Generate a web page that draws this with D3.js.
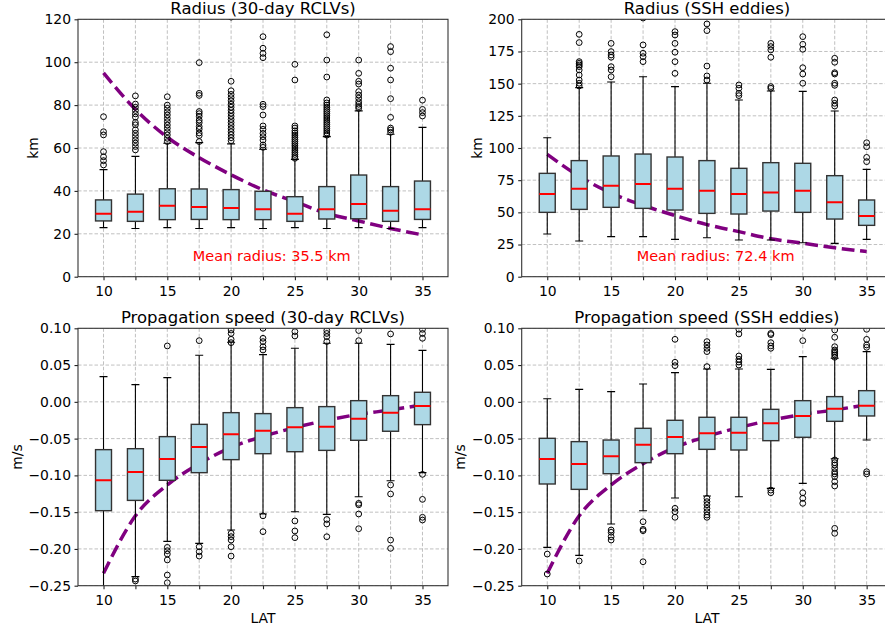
<!DOCTYPE html>
<html>
<head>
<meta charset="utf-8">
<script src="https://cdn.jsdelivr.net/npm/d3@7"></script>
<style>
  html, body { margin: 0; padding: 0; background: #fff; }
  svg { display: block; font-family: "DejaVu Sans", sans-serif; }
</style>
</head>
<body>
<script>
// Latitude bins (box positions) and labelled ticks
const latitudes = [10, 12.5, 15, 17.5, 20, 22.5, 25, 27.5, 30, 32.5, 35];
const latTickLabels = [10, 15, 20, 25, 30, 35];

// Theoretical first-baroclinic Rossby radius (km) and long-wave speed (m/s)
const rossbyRadius = [95, 78, 65, 55.5, 47.5, 40.5, 35, 29.5, 26, 22.5, 19.5];
const rossbySpeed = [-0.233, -0.155, -0.113, -0.084, -0.062, -0.047, -0.035, -0.025, -0.017, -0.011, -0.004];

// Box statistics per latitude: [lower whisker, Q1, median, Q3, upper whisker]
const rclvRadiusBoxes = [
  [22.9, 26.0, 29.4, 35.8, 49.9], [22.5, 25.8, 30.3, 38.5, 56.1], [22.9, 26.6, 33.1, 41.0, 62.2],
  [22.5, 26.7, 32.5, 40.9, 62.5], [22.9, 26.6, 32.0, 40.6, 61.9], [22.5, 26.6, 31.4, 39.8, 59.4],
  [22.9, 25.8, 29.4, 37.3, 54.7], [22.5, 26.9, 31.4, 42.0, 65.3], [22.9, 27.0, 33.9, 47.4, 77.3],
  [22.5, 25.8, 30.8, 42.0, 66.4], [22.9, 26.7, 31.4, 44.6, 69.6]
];
const rclvRadiusOutliers = [
  [74.6, 67.6, 66.1, 58.3, 55.9, 54.1, 52.1],
  [84.3, 80.5, 79.0, 77.5, 75.9, 74.4, 71.9, 70.8, 68.5, 66.9, 65.4, 63.8, 62.3, 60.7, 59.1],
  [83.9, 80.0, 78.5, 76.9, 75.4, 73.8, 72.3, 70.7, 69.2, 67.6, 66.1, 64.5, 63.0],
  [99.8, 85.5, 84.5, 77.0, 76.0, 74.8, 73.0, 71.8, 70.0, 68.8, 67.0, 65.8, 63.0],
  [121, 91.1, 86.7, 85.0, 83.5, 82.0, 80.4, 79.0, 77.6, 76.2, 74.8, 73.3, 71.9, 70.5, 69.0, 67.6, 66.2, 64.8, 63.4],
  [111.9, 106.5, 104.1, 102.1, 80.4, 79.3, 75.4, 70.3, 68.7, 66.8, 65.3, 63.7, 61.4, 60.3],
  [99.0, 91.7, 70.3, 69.3, 68.0, 67.0, 66.0, 65.0, 64.0, 63.0, 62.0, 61.0, 60.0, 59.0, 58.0, 57.0, 56.0, 55.2],
  [112.8, 101.0, 93.1, 82.4, 81.0, 80.0, 79.0, 78.0, 77.0, 76.0, 75.0, 74.0, 73.0, 72.0, 71.0, 70.0, 69.0, 68.0, 67.0, 66.0],
  [101.0, 94.8, 91.1, 89.8, 86.3, 84.7, 83.2, 81.6, 80.4, 79.3, 78.5],
  [107.3, 104.9, 97.2, 91.7, 83.0, 74.3, 69.3, 68.4, 67.3],
  [82.3, 78.0, 76.5, 74.9]
];

const sshRadiusBoxes = [
  [33.2, 50.0, 64.2, 80.3, 108.0], [27.7, 52.3, 68.4, 90.2, 146.9], [31.1, 53.9, 70.7, 93.8, 151.3],
  [31.1, 53.1, 72.0, 95.3, 155.4], [29.0, 51.8, 68.4, 93.0, 147.7], [30.3, 49.2, 66.8, 90.2, 150.3],
  [28.5, 48.7, 64.2, 84.2, 137.3], [28.5, 51.0, 65.5, 88.6, 144.3], [26.4, 50.0, 66.8, 88.1, 144.0],
  [25.9, 44.8, 57.8, 78.5, 128.8], [29.0, 39.9, 47.2, 59.6, 83.4]
];
const sshRadiusOutliers = [
  [],
  [188.3, 181.9, 167.1, 165.8, 164.5, 163.2, 160.6, 156.7, 152.8, 150.3, 148.2],
  [181.3, 174.9, 172.3, 170.5, 163.2, 160.6, 155.4],
  [201, 180.1, 173.6, 171.0, 167.1],
  [190.4, 187.8, 181.3, 174.4, 167.1, 158.0],
  [196.4, 191.2, 163.7, 156.0, 152.8],
  [149.0, 146.4, 142.5, 140.7],
  [181.3, 178.8, 176.2, 170.5, 147.7, 146.4],
  [186.5, 180.6, 176.7, 162.4, 157.5, 150.3],
  [169.7, 166.6, 158.5, 157.5, 150.3, 148.7, 137.3, 134.7, 132.6],
  [104.1, 101.0, 92.7, 89.4]
];

const rclvSpeedBoxes = [
  [-0.27, -0.148, -0.1067, -0.065, 0.0343], [-0.2377, -0.134, -0.0954, -0.0637, 0.0234],
  [-0.1897, -0.1067, -0.0777, -0.0473, 0.0329], [-0.1924, -0.0963, -0.0614, -0.0306, 0.0633],
  [-0.1743, -0.0786, -0.0442, -0.0147, 0.081], [-0.1525, -0.0705, -0.0392, -0.016, 0.0642],
  [-0.1494, -0.0678, -0.0346, -0.0079, 0.0728], [-0.153, -0.066, -0.0337, -0.0065, 0.0796],
  [-0.129, -0.0523, -0.0229, 0.0016, 0.0796], [-0.1072, -0.040, -0.0147, 0.0084, 0.0782],
  [-0.0963, -0.031, -0.0056, 0.013, 0.070]
];
const rclvSpeedOutliers = [
  [],
  [-0.241, -0.2436],
  [0.076, -0.1979, -0.2024, -0.207, -0.215, -0.2355, -0.246],
  [0.0832, -0.197, -0.2038, -0.2097],
  [0.0977, 0.093, 0.085, 0.0805, -0.1788, -0.1833, -0.1879, -0.197, -0.2097],
  [0.1, 0.0864, 0.0819, 0.075, 0.0705, -0.155, -0.1765],
  [0.0955, 0.0896, -0.162, -0.1756, -0.1847],
  [0.097, 0.093, 0.0887, 0.082, -0.16, -0.166, -0.1834],
  [0.097, 0.0832, -0.138, -0.140, -0.1525, -0.1725],
  [0.0923, -0.113, -0.1253, -0.1879, -0.1992],
  [0.0986, 0.093, 0.0864, -0.0986, -0.1326, -0.157, -0.1607]
];

const sshSpeedBoxes = [
  [-0.1979, -0.1117, -0.0777, -0.0496, 0.0043], [-0.2087, -0.119, -0.0845, -0.0541, 0.017],
  [-0.1661, -0.0977, -0.0741, -0.0519, 0.0139], [-0.148, -0.0827, -0.0582, -0.036, 0.0243],
  [-0.1307, -0.0705, -0.0478, -0.0251, 0.0397], [-0.128, -0.0646, -0.0428, -0.021, 0.0447],
  [-0.129, -0.0655, -0.0419, -0.021, 0.0447], [-0.1176, -0.0528, -0.0292, -0.0102, 0.0442],
  [-0.1108, -0.0482, -0.0192, 0.0016, 0.0615], [-0.0773, -0.0265, -0.0093, 0.0071, 0.0592],
  [-0.0519, -0.0192, -0.0052, 0.0152, 0.0683]
];
const sshSpeedOutliers = [
  [-0.207, -0.2341],
  [-0.2164],
  [-0.1743, -0.1774, -0.1834, -0.1879],
  [-0.163, -0.1734, -0.1752, -0.2174],
  [0.085, 0.0538, 0.0492, -0.1448, -0.1494, -0.157],
  [0.0819, 0.0773, 0.0728, 0.0683, 0.0479, -0.1312, -0.1357, -0.140, -0.1448, -0.1494, -0.1539, -0.157],
  [0.0986, 0.0923, 0.0624, 0.0578, 0.0542, 0.0501],
  [0.093, 0.0914, 0.0805, 0.076, 0.0728, -0.12, -0.1236],
  [0.1, 0.0832, -0.1236, -0.1312, -0.138],
  [0.0977, 0.0878, 0.075, 0.0705, 0.0683, 0.066, 0.0637, 0.0606, -0.079, -0.0827, -0.0859, -0.0904, -0.095, -0.098, -0.1017, -0.1085, -0.1144, -0.172, -0.1788],
  [0.0986, 0.085, 0.0773, 0.0742, -0.095, -0.098]
];

// Y-axis ticks
const radiusTicksRclv = [0, 20, 40, 60, 80, 100, 120];
const radiusTicksSsh = [0, 25, 50, 75, 100, 125, 150, 175, 200];
const speedTicks = [-0.25, -0.20, -0.15, -0.10, -0.05, 0.00, 0.05, 0.10];

// Mean radius annotations
const meanRadiusRclv = 35.5;
const meanRadiusSsh = 72.4;

// Layout
const W = 885, H = 632;
const cols = [[78, 448], [521.7, 892.2]];
const rows = [[19.3, 276.7], [328.3, 585.7]];
const boxWidth = 1.25;   // in latitude units
const xDomain = [8, 37];

const panels = [
  { col: 0, row: 0, title: "Radius (30-day RCLVs)", yLabel: "km", domain: [0, 120], ticks: radiusTicksRclv,
    fmt: d3.format("d"), boxes: rclvRadiusBoxes, outliers: rclvRadiusOutliers, curve: rossbyRadius,
    mean: meanRadiusRclv },
  { col: 1, row: 0, title: "Radius (SSH eddies)", yLabel: "km", domain: [0, 200], ticks: radiusTicksSsh,
    fmt: d3.format("d"), boxes: sshRadiusBoxes, outliers: sshRadiusOutliers, curve: rossbyRadius,
    mean: meanRadiusSsh },
  { col: 0, row: 1, title: "Propagation speed (30-day RCLVs)", yLabel: "m/s", domain: [-0.25, 0.10], ticks: speedTicks,
    fmt: d3.format(".2f"), boxes: rclvSpeedBoxes, outliers: rclvSpeedOutliers, curve: rossbySpeed, xLabel: "LAT" },
  { col: 1, row: 1, title: "Propagation speed (SSH eddies)", yLabel: "m/s", domain: [-0.25, 0.10], ticks: speedTicks,
    fmt: d3.format(".2f"), boxes: sshSpeedBoxes, outliers: sshSpeedOutliers, curve: rossbySpeed, xLabel: "LAT" }
];

const svg = d3.select("body").append("svg").attr("width", W).attr("height", H);

panels.forEach((p, pi) => {
  const [x0, x1] = cols[p.col];
  const [y0, y1] = rows[p.row];
  const x = d3.scaleLinear().domain(xDomain).range([x0, x1]);
  const y = d3.scaleLinear().domain(p.domain).range([y1, y0]);
  const g = svg.append("g");

  const clipId = "clip" + pi;
  g.append("clipPath").attr("id", clipId)
    .append("rect").attr("x", x0).attr("y", y0).attr("width", x1 - x0).attr("height", y1 - y0);
  const plot = g.append("g").attr("clip-path", `url(#${clipId})`);

  // grid
  plot.append("g").selectAll("line.vx").data(latitudes).join("line")
    .attr("x1", d => x(d)).attr("x2", d => x(d)).attr("y1", y0).attr("y2", y1)
    .attr("stroke", "#b0b0b0").attr("stroke-width", 0.8).attr("stroke-dasharray", "3.5,2");
  plot.append("g").selectAll("line.hy").data(p.ticks).join("line")
    .attr("x1", x0).attr("x2", x1).attr("y1", d => y(d)).attr("y2", d => y(d))
    .attr("stroke", "#b0b0b0").attr("stroke-width", 0.8).attr("stroke-dasharray", "3.5,2");

  // theoretical curve
  const line = d3.line().x((d, i) => x(latitudes[i])).y(d => y(d)).curve(d3.curveMonotoneX);
  plot.append("path").datum(p.curve).attr("d", line)
    .attr("fill", "none").attr("stroke", "#800080").attr("stroke-width", 3.5)
    .attr("stroke-dasharray", "12.8,5.6");

  // boxes
  const half = (x(boxWidth) - x(0)) / 2;
  const capHalf = half / 2;
  const bx = plot.append("g");
  p.boxes.forEach((b, i) => {
    const cx = x(latitudes[i]);
    const [lo, q1, med, q3, hi] = b;
    bx.append("line").attr("x1", cx).attr("x2", cx).attr("y1", y(q3)).attr("y2", y(hi))
      .attr("stroke", "#000").attr("stroke-width", 1.1);
    bx.append("line").attr("x1", cx).attr("x2", cx).attr("y1", y(q1)).attr("y2", y(lo))
      .attr("stroke", "#000").attr("stroke-width", 1.1);
    [lo, hi].forEach(v => {
      bx.append("line").attr("x1", cx - capHalf).attr("x2", cx + capHalf).attr("y1", y(v)).attr("y2", y(v))
        .attr("stroke", "#000").attr("stroke-width", 1.1);
    });
    bx.append("rect").attr("x", cx - half).attr("width", 2 * half)
      .attr("y", y(q3)).attr("height", y(q1) - y(q3))
      .attr("fill", "#add8e6").attr("stroke", "#333").attr("stroke-width", 1.4);
    bx.append("line").attr("x1", cx - half).attr("x2", cx + half).attr("y1", y(med)).attr("y2", y(med))
      .attr("stroke", "#ff0000").attr("stroke-width", 2);
  });

  // outliers
  const fl = plot.append("g");
  p.outliers.forEach((arr, i) => {
    fl.selectAll(null).data(arr).join("circle")
      .attr("cx", x(latitudes[i])).attr("cy", d => y(d)).attr("r", 2.9)
      .attr("fill", "none").attr("stroke", "#000").attr("stroke-width", 1);
  });

  // axes
  const xAxis = d3.axisBottom(x).tickValues(latitudes)
    .tickFormat(d => latTickLabels.includes(d) ? d : "")
    .tickSize(3.5).tickPadding(3.5);
  const gx = g.append("g").attr("transform", `translate(0,${y1})`).call(xAxis);
  const yAxis = d3.axisLeft(y).tickValues(p.ticks).tickFormat(p.fmt).tickSize(3.5).tickPadding(3.5);
  const gy = g.append("g").attr("transform", `translate(${x0},0)`).call(yAxis);
  [gx, gy].forEach(a => {
    a.select(".domain").remove();
    a.selectAll(".tick line").attr("stroke", "#222").attr("stroke-width", 1.1);
    a.selectAll(".tick text").attr("fill", "#000").style("font-size", "13.9px")
      .style("font-family", "DejaVu Sans, sans-serif");
  });
  gx.selectAll(".tick text").attr("dy", null).attr("y", 19.5 - 0).attr("dominant-baseline", "auto");
  gx.selectAll(".tick text").attr("y", 19.5);

  // frame
  g.append("rect").attr("x", x0).attr("y", y0).attr("width", x1 - x0).attr("height", y1 - y0)
    .attr("fill", "none").attr("stroke", "#333").attr("stroke-width", 1.1);

  // title
  g.append("text").attr("x", (x0 + x1) / 2).attr("y", y0 - 5.6)
    .attr("text-anchor", "middle").style("font-size", "16.5px").attr("fill", "#000")
    .text(p.title);

  // y label
  const yOff = p.row === 0 ? 40 : 56.5;
  g.append("text")
    .attr("transform", `translate(${x0 - yOff},${(y0 + y1) / 2}) rotate(-90)`)
    .attr("text-anchor", "middle").style("font-size", "13.9px").attr("fill", "#000")
    .text(p.yLabel);

  // x label
  if (p.xLabel) {
    g.append("text").attr("x", (x0 + x1) / 2).attr("y", y1 + 37.5)
      .attr("text-anchor", "middle").style("font-size", "13.9px").attr("fill", "#000")
      .text(p.xLabel);
  }

  // mean radius annotation
  if (p.mean !== undefined) {
    g.append("text").attr("x", x(17)).attr("y", y1 - 16)
      .style("font-size", "14.5px").attr("fill", "#ff0000")
      .text(`Mean radius: ${p.mean} km`);
  }
});
</script>
</body>
</html>
